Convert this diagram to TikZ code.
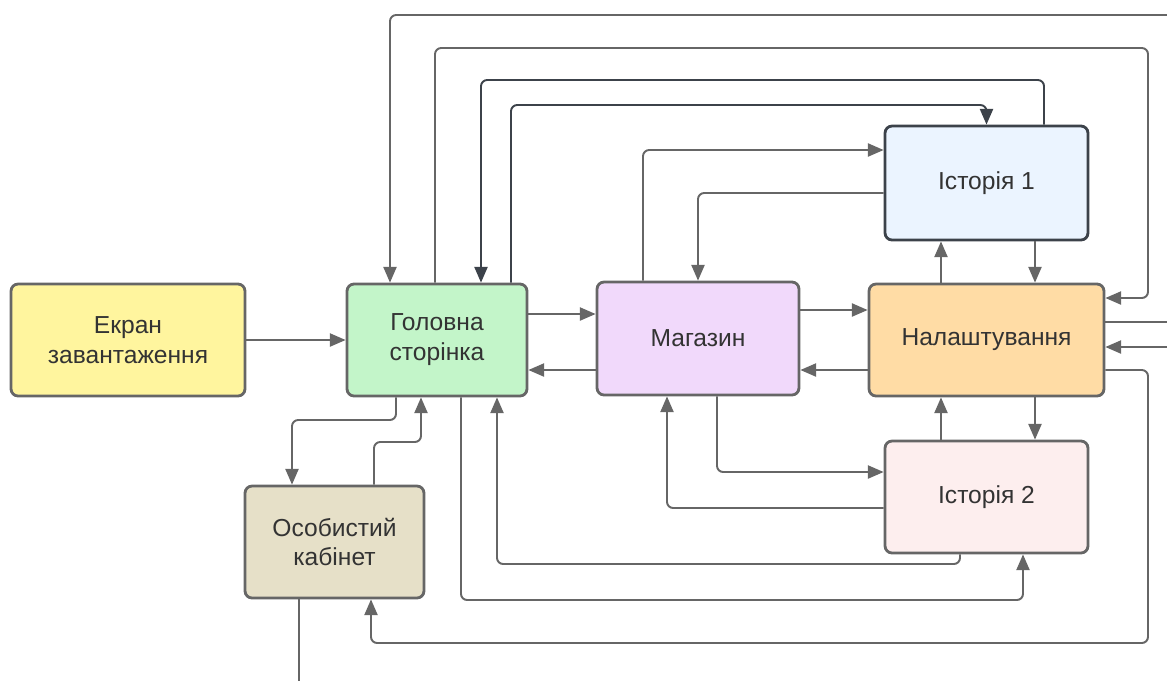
\documentclass[tikz,border=0pt]{standalone}
\usepackage{fontspec}
\setmainfont{Liberation Sans}
\usetikzlibrary{arrows.meta}

\definecolor{lineg}{HTML}{666666}
\definecolor{dline}{HTML}{3C424A}
\definecolor{txt}{HTML}{333333}
\definecolor{ekranc}{HTML}{FFF59E}
\definecolor{golc}{HTML}{C3F5C9}
\definecolor{magc}{HTML}{F1D9FB}
\definecolor{nalc}{HTML}{FFDCA5}
\definecolor{ist1c}{HTML}{EBF4FF}
\definecolor{ist2c}{HTML}{FDEEEE}
\definecolor{osobc}{HTML}{E6E0C8}

\tikzset{
  box/.style={draw=lineg, line width=1.6pt, rounded corners=4pt, align=center,
    text=txt, inner sep=0pt, font=\fontsize{14}{17}\selectfont},
  link/.style={->, draw=lineg, line width=1.1pt, rounded corners=3.5pt},
  plain/.style={draw=lineg, line width=1.1pt, rounded corners=3.5pt},
  dlink/.style={link, draw=dline},
}

\begin{document}
\begin{tikzpicture}[x=0.02cm, y=-0.02cm, >={Triangle[length=9pt,width=7.5pt]}]
    \useasboundingbox (0,0) rectangle (1167,681);

    % блоки
    \node[box, fill=ekranc, minimum width=4.68cm, minimum height=2.24cm] (ekran) at (128,340) {Екран\\завантаження};
    \node[box, fill=golc, minimum width=3.6cm, minimum height=2.24cm] (golovna) at (437,340) {Головна\\сторінка};
    \node[box, fill=magc, minimum width=4.04cm, minimum height=2.26cm] (mag) at (698,338.5) {Магазин};
    \node[box, fill=nalc, minimum width=4.7cm, minimum height=2.24cm] (nal) at (986.5,340) {Налаштування};
    \node[box, fill=ist1c, draw=dline, minimum width=4.06cm, minimum height=2.28cm] (ist1) at (986.5,183) {Історія 1};
    \node[box, fill=ist2c, minimum width=4.06cm, minimum height=2.24cm] (ist2) at (986.5,497) {Історія 2};
    \node[box, fill=osobc, minimum width=3.58cm, minimum height=2.24cm] (osob) at (334.5,542) {Особистий\\кабінет};

    % кінці за краєм
    \coordinate (offT) at (1167,15);
    \coordinate (offR1) at (1167,322);
    \coordinate (offR2) at (1167,347);
    \coordinate (offB) at (299,681);

    % головний ряд
    \draw[link] (ekran.east) -- (golovna.west);
    \draw[link] (golovna.east |- 0,314) -- (mag.west |- 0,314);
    \draw[link] (mag.west |- 0,370) -- (golovna.east |- 0,370);
    \draw[link] (mag.east |- 0,310) -- (nal.west |- 0,310);
    \draw[link] (nal.west |- 0,370) -- (mag.east |- 0,370);

    % налаштування <-> історії
    \draw[link] (nal.north -| 941,0) -- (ist1.south -| 941,0);
    \draw[link] (ist1.south -| 1035,0) -- (nal.north -| 1035,0);
    \draw[link] (nal.south -| 1035,0) -- (ist2.north -| 1035,0);
    \draw[link] (ist2.north -| 941,0) -- (nal.south -| 941,0);

    % магазин <-> історії
    \draw[link] (mag.north -| 643,0) |- (ist1.west |- 0,150);
    \draw[link] (ist1.west |- 0,193) -| (mag.north -| 698,0);
    \draw[link] (mag.south -| 717,0) |- (ist2.west |- 0,472);
    \draw[link] (ist2.west |- 0,508) -| (mag.south -| 667,0);

    % головна <-> історія 2
    \draw[link] (ist2.south -| 960,0) -- (960,564) -| (golovna.south -| 497,0);
    \draw[link] (golovna.south -| 461,0) |- (1023,600) -- (ist2.south -| 1023,0);

    % головна <-> кабінет
    \draw[link] (golovna.south -| 396,0) -- (396,420) -| (osob.north -| 292,0);
    \draw[link] (osob.north -| 374,0) -- (374,442) -| (golovna.south -| 421,0);
    \draw[plain] (osob.south -| 299,0) -- (offB);
    \draw[link] (nal.east |- 0,370) -- (1148,370) |- (371,643) -- (osob.south -| 371,0);

    % верхні лінії
    \draw[link] (offT) -| (golovna.north -| 390,0);
    \draw[link] (golovna.north -| 435,0) |- (1148,48) |- (nal.east |- 0,298);
    \draw[dlink] (ist1.north -| 1044,0) |- (481,80) -- (golovna.north -| 481,0);
    \draw[dlink] (golovna.north -| 511,0) |- (986.5,105) -- (ist1.north);

    % праворуч за край
    \draw[plain] (nal.east |- 0,322) -- (offR1);
    \draw[link] (offR2) -- (nal.east |- 0,347);
\end{tikzpicture}
\end{document}
